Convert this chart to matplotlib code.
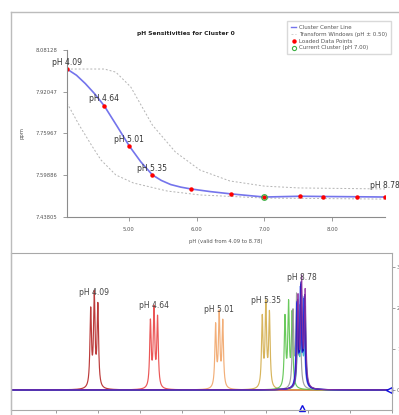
#!/usr/bin/env python3
# pH sensitivity plot for one cluster, with the stacked spectra below

import numpy as np
from matplotlib import pyplot as plt
from matplotlib.lines import Line2D

# loaded data points (pH, ppm of cluster centre)
point_ph = [4.09, 4.64, 5.01, 5.35, 5.92, 6.51, 7.00, 7.53, 7.87, 8.37, 8.78]
point_ppm = [8.008, 7.866, 7.711, 7.600, 7.546, 7.527, 7.515, 7.518, 7.517, 7.516, 7.515]

# cluster centre line
center_ph = [4.09, 4.23, 4.36, 4.50, 4.64, 4.83, 5.01, 5.18, 5.35, 5.48, 5.62, 5.77, 5.92,
             6.20, 6.51, 7.00, 7.53, 7.87, 8.37, 8.78]
center_ppm = [8.008, 7.984, 7.952, 7.912, 7.866, 7.787, 7.711, 7.650, 7.600, 7.579, 7.563,
              7.553, 7.546, 7.536, 7.527, 7.515, 7.518, 7.517, 7.516, 7.515]

# transform windows (pH +/- 0.50)
upper_ph = [4.09, 4.64, 4.81, 5.03, 5.35, 5.69, 6.05, 6.49, 7.00, 7.51, 8.78]
upper_ppm = [8.008, 8.008, 7.996, 7.939, 7.792, 7.688, 7.619, 7.577, 7.557, 7.550, 7.546]
lower_ph = [4.09, 4.27, 4.45, 4.59, 4.81, 5.07, 5.57, 6.05, 7.00, 8.78]
lower_ppm = [7.877, 7.792, 7.715, 7.658, 7.600, 7.569, 7.538, 7.523, 7.511, 7.507]

current_ph = 7.00
current_ppm = 7.515
labeled_ph = [4.09, 4.64, 5.01, 5.35, 8.78]

y_ticks = [7.43805, 7.59886, 7.75967, 7.92047, 8.08128]
x_ticks = [5.0, 6.0, 7.0, 8.0]

# spectra: one triplet per loaded pH
spec_height = [2.20, 1.88, 1.78, 2.00, 2.00, 2.15, 2.10, 2.30, 2.35, 2.40, 2.55]
spec_colors = ["#b01818", "#e83a3a", "#f0a060", "#d0a840", "#50c040", "#909090",
               "#20b0c0", "#3050f0", "#2020e0", "#1010b0", "#9030a0"]
triplet_rel = [0.9, 1.0, 0.85]
spec_ticks = [8.1, 8.0, 7.9, 7.8, 7.7, 7.6, 7.5, 7.4, 7.3]

fig = plt.figure(figsize=(3.99, 4.15), dpi=100)
W, H = 399, 415

# ---- top panel
ax = fig.add_axes([67/W, 1-217/H, 318/W, 167/H])
ax.plot(upper_ph, upper_ppm, ls=(0, (2, 2)), color="#b4b4b4", lw=0.7)
ax.plot(lower_ph, lower_ppm, ls=(0, (2, 2)), color="#b4b4b4", lw=0.7)
ax.plot(center_ph, center_ppm, color="#7474ec", lw=1.2)
ax.plot(point_ph, point_ppm, "o", color="red", ms=2.2, ls="none")
ax.plot(current_ph, current_ppm, "o", mfc="none", mec="#3cb043", ms=4, mew=0.9)

for ph in labeled_ph:
    i = point_ph.index(ph)
    dy = 8.5 if ph == labeled_ph[-1] else 5
    ax.annotate("pH %.2f" % ph, (ph, point_ppm[i]), xytext=(0, dy), textcoords="offset points",
                ha="center", va="center", fontsize=5.5, color="#333333", annotation_clip=False)

ax.set_xlim(4.09, 8.78)
ax.set_ylim(y_ticks[0], y_ticks[-1])
ax.set_yticks(y_ticks)
ax.set_yticklabels(["%.5f" % v for v in y_ticks])
ax.set_xticks(x_ticks)
ax.set_xticklabels(["%.2f" % v for v in x_ticks])
for s in ["top", "right"]:
    ax.spines[s].set_visible(False)
for s in ["left", "bottom"]:
    ax.spines[s].set_color("#8c8c8c")
    ax.spines[s].set_linewidth(0.8)
ax.tick_params(length=3, width=0.6, color="#8c8c8c", labelsize=3.8, labelcolor="#555555", pad=4)
ax.set_xlabel("pH (valid from 4.09 to 8.78)", fontsize=3.8, color="#555555", labelpad=5)
fig.text(22/W, 1-133/H, "ppm", rotation=90, ha="center", va="center", fontsize=3.8, color="#555555")
fig.text(186/W, 1-34/H, "pH Sensitivities for Cluster 0", ha="center", va="center",
         fontsize=4.3, fontweight="bold", color="#222222")

handles = [Line2D([], [], color="#7474ec", lw=1.0),
           Line2D([], [], color="#d0d0d0", lw=0.7, ls=(0, (2, 2))),
           Line2D([], [], marker="o", color="red", ms=2.2, ls="none"),
           Line2D([], [], marker="o", mfc="none", mec="#3cb043", ms=3, mew=0.8, ls="none")]
names = ["Cluster Center Line", "Transform Windows (pH \u00b1 0.50)", "Loaded Data Points",
         "Current Cluster (pH %.2f)" % current_ph]
leg = fig.legend(handles, names, loc="upper right", bbox_to_anchor=(394/W, 1-18/H), fontsize=4,
                 frameon=True, fancybox=False, edgecolor="#d0d0d0", borderpad=0.7,
                 handlelength=1.0, handletextpad=0.5, labelspacing=0.35)
for t in leg.get_texts():
    t.set_color("#555555")

# ---- bottom panel: spectra
ax2 = fig.add_axes([11/W, 1-410/H, 381/W, 157/H])
grid = np.linspace(8.206, 7.306, 8000)
J = 0.0085
wid = 0.0021
ax2.axhline(0, color="#c8c8d8", lw=0.5)
for i, c in enumerate(point_ppm):
    spec = np.zeros_like(grid)
    for k, r in zip([-1, 0, 1], triplet_rel):
        spec += r * spec_height[i] * wid**2 / ((grid - (c + k * J))**2 + wid**2)
    ax2.plot(grid, spec, color=spec_colors[i], lw=0.85, alpha=0.85)

for ph in labeled_ph:
    i = point_ph.index(ph)
    ax2.annotate("pH %.2f" % ph, (point_ppm[i], spec_height[i]), xytext=(0, 5.5),
                 textcoords="offset points", ha="center", va="center", fontsize=5.5, color="#444444")

ax2.plot(7.306, 0, marker="<", ms=4.5, mfc="white", mec="#1010e0", mew=1.0, clip_on=False)
ax2.plot(current_ppm, -0.44, marker="^", ms=4.5, mfc="white", mec="#1010e0", mew=1.0, clip_on=False)

ax2.set_xlim(8.206, 7.306)
ax2.set_ylim(-0.49, 3.34)
ax2.set_xticks(spec_ticks)
ax2.set_xticklabels(["%.1f" % v for v in spec_ticks])
ax2.yaxis.tick_right()
ax2.set_yticks([0, 1, 2, 3])
ax2.set_yticklabels(["0", "1", "2", "3"])
for s in ax2.spines.values():
    s.set_color("#a8a8a8")
    s.set_linewidth(0.8)
ax2.tick_params(length=2.5, width=0.6, color="#8c8c8c", labelsize=4, labelcolor="#666666", pad=1)

# outer frame of the window
fig.add_artist(Line2D([11/W, 1], [1-12/H, 1-12/H], color="#bcbcbc", lw=1.0))
fig.add_artist(Line2D([11/W, 11/W], [1-12/H, 0], color="#bcbcbc", lw=1.0))

fig.savefig("out.png", dpi=100)
